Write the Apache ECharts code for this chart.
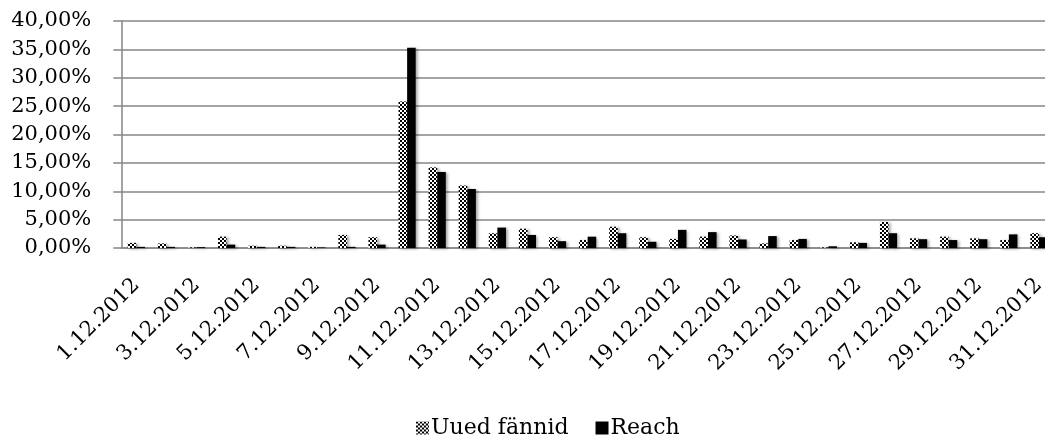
<!DOCTYPE html>
<html><head><meta charset="utf-8">
<script src="https://cdn.jsdelivr.net/npm/echarts@6/dist/echarts.min.js"></script>
<style>html,body{margin:0;padding:0;background:#fff}#c{width:1045px;height:439px}</style>
</head><body><div id="c"></div>
<script>
const categories = ['1.12.2012','2.12.2012','3.12.2012','4.12.2012','5.12.2012','6.12.2012','7.12.2012','8.12.2012','9.12.2012','10.12.2012','11.12.2012','12.12.2012','13.12.2012','14.12.2012','15.12.2012','16.12.2012','17.12.2012','18.12.2012','19.12.2012','20.12.2012','21.12.2012','22.12.2012','23.12.2012','24.12.2012','25.12.2012','26.12.2012','27.12.2012','28.12.2012','29.12.2012','30.12.2012','31.12.2012'];
const uuedFannid = [0.9,0.8,0.1,2.0,0.4,0.4,0.2,2.3,1.9,25.8,14.2,11.0,2.6,3.4,1.9,1.4,3.75,1.9,1.6,2.0,2.2,0.8,1.4,0.1,1.0,4.6,1.7,2.0,1.7,1.4,2.6];
const reach = [0.2,0.2,0.15,0.6,0.2,0.2,0.1,0.2,0.6,35.3,13.4,10.4,3.6,2.3,1.2,2.0,2.6,1.1,3.2,2.8,1.5,2.1,1.6,0.3,0.9,2.6,1.55,1.4,1.55,2.4,1.9];
const seriesNames = ['Uued fännid','Reach'];

const cv = document.createElement('canvas');
cv.width = 4; cv.height = 4;
const cx = cv.getContext('2d');
cx.fillStyle = '#fff'; cx.fillRect(0,0,4,4);
cx.fillStyle = '#000'; cx.fillRect(0,0,2,2); cx.fillRect(2,2,2,2);
const checker = {image: cv, repeat: 'repeat'};

const FONT = 'DejaVu Serif';
const shadow = {shadowBlur: 3, shadowOffsetX: 2, shadowOffsetY: 1, shadowColor: 'rgba(0,0,0,0.35)'};
const chart = echarts.init(document.getElementById('c'), null, {renderer: 'canvas'});
chart.setOption({
  animation: false,
  backgroundColor: '#fff',
  textStyle: {fontFamily: FONT, color: '#000'},
  grid: {left: 121.3, right: -9, top: 21, bottom: 191, containLabel: false, outerBoundsMode: 'none'},
  legend: {
    data: seriesNames, bottom: -5, left: 411, itemWidth: 13, itemHeight: 13, itemGap: 27,
    icon: 'rect',
    textStyle: {fontFamily: FONT, fontSize: 22, color: '#000', padding: [0,0,0,-3]}
  },
  xAxis: {
    type: 'category', data: categories, boundaryGap: true,
    axisLine: {lineStyle: {color: '#868686', width: 1.5}},
    axisTick: {interval: 1, length: 8, lineStyle: {color: '#868686', width: 1.5}},
    axisLabel: {interval: 1, rotate: 45, margin: 34, fontFamily: FONT, fontSize: 21, color: '#000'}
  },
  yAxis: {
    type: 'value', min: 0, max: 40, interval: 5,
    axisLine: {show: true, lineStyle: {color: '#868686', width: 1.5}},
    axisTick: {show: true, length: 8, lineStyle: {color: '#868686', width: 1.5}},
    splitLine: {lineStyle: {color: '#868686', width: 1.5}},
    axisLabel: {margin: 30, fontFamily: FONT, fontSize: 21, color: '#000',
      formatter: v => v.toFixed(2).replace('.', ',') + '%'}
  },
  series: [
    {name: seriesNames[0], type: 'bar', data: uuedFannid, barGap: '0%', barCategoryGap: '43%',
     itemStyle: Object.assign({color: checker}, shadow)},
    {name: seriesNames[1], type: 'bar', data: reach, barGap: '0%', barCategoryGap: '43%',
     itemStyle: Object.assign({color: '#000'}, shadow)}
  ]
});
</script></body></html>
